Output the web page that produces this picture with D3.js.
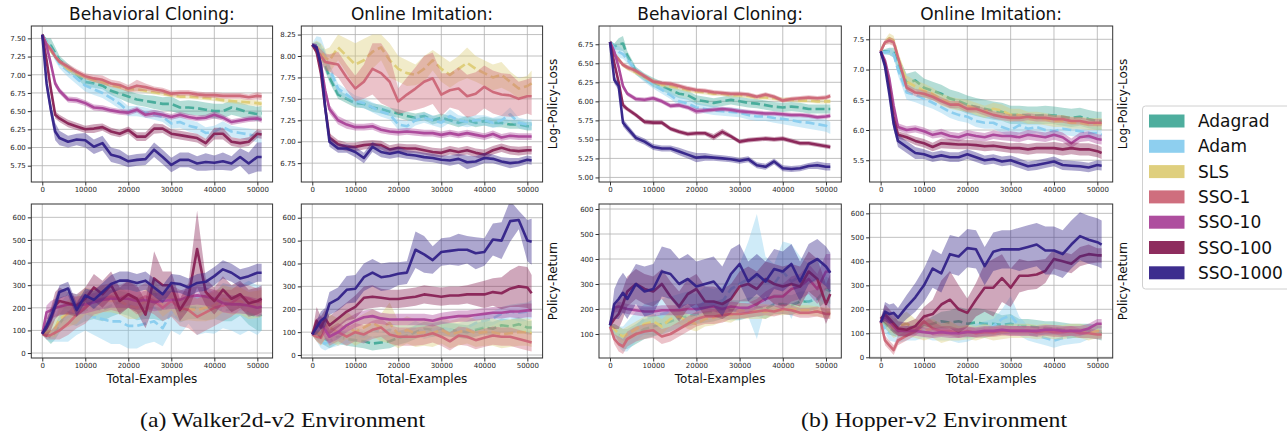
<!DOCTYPE html>
<html>
<head>
<meta charset="utf-8">
<script src="https://cdn.jsdelivr.net/npm/d3@7"></script>
<style>
  body { margin: 0; background: #fff; }
  svg { display: block; font-family: "DejaVu Sans", sans-serif; }
</style>
</head>
<body>
<svg id="chart" width="1287" height="431"></svg>
<script>
// series order: Adagrad, Adam, SLS, SSO-1, SSO-10, SSO-100, SSO-1000
const methods = ["Adagrad", "Adam", "SLS", "SSO-1", "SSO-10", "SSO-100", "SSO-1000"];
const colors = ["#44AA99", "#88CCEE", "#DDCC77", "#CC6677", "#AA4499", "#882255", "#332288"];
const dashed = [true, true, true, false, false, false, false];

const examples = [0, 1000, 2000, 3000, 4000, 6000, 8000, 10000, 12000, 14000, 16000, 18000, 20000, 22000,
  24000, 26000, 28000, 30000, 32000, 34000, 36000, 38000, 40000, 42000, 44000, 46000, 48000, 50000, 51000];
const xTicks = [0, 10000, 20000, 30000, 40000, 50000];

// Walker2d, behavioral cloning, log policy loss
const walkerBcLoss = [
  [7.55,7.45,7.4,7.3,7.2,7.1,7.0,6.9,6.88,6.85,6.78,6.74,6.7,6.66,6.64,6.62,6.6,6.6,6.55,6.55,6.54,6.52,6.5,6.5,6.55,6.52,6.48,6.46,6.47],
  [7.55,7.45,7.35,7.25,7.15,7.05,6.95,6.85,6.8,6.75,6.68,6.6,6.5,6.5,6.48,6.45,6.42,6.33,6.35,6.3,6.27,6.2,6.22,6.28,6.22,6.2,6.18,6.15,6.14],
  [7.55,7.42,7.33,7.25,7.18,7.08,7.02,6.97,6.93,6.9,6.86,6.83,6.8,6.8,6.78,6.76,6.74,6.72,6.7,6.7,6.69,6.68,6.67,6.65,6.64,6.63,6.62,6.61,6.6],
  [7.55,7.42,7.35,7.25,7.18,7.11,7.04,6.98,6.95,6.93,6.88,6.86,6.81,6.85,6.83,6.8,6.78,6.74,6.75,6.75,6.73,6.72,6.72,6.71,6.71,6.71,6.69,6.71,6.7],
  [7.55,7.4,7.15,6.88,6.78,6.66,6.65,6.61,6.55,6.54,6.51,6.49,6.48,6.52,6.45,6.47,6.45,6.42,6.45,6.42,6.4,6.41,6.45,6.41,6.35,6.37,6.39,6.4,6.38],
  [7.55,7.2,6.8,6.45,6.4,6.33,6.29,6.25,6.26,6.28,6.22,6.19,6.24,6.15,6.15,6.26,6.26,6.19,6.17,6.15,6.13,6.06,6.19,6.19,6.08,6.06,6.08,6.19,6.18],
  [7.55,6.88,6.52,6.22,6.13,6.08,6.11,6.1,6.01,6.06,5.9,5.87,5.81,5.83,5.84,5.97,5.87,5.76,5.83,5.83,5.78,5.8,5.79,5.81,5.78,5.87,5.78,5.87,5.87]
];
const walkerBcLossSd = [
  [0.02,0.05,0.1,0.08,0.06,0.05,0.05,0.06,0.06,0.05,0.06,0.07,0.08,0.08,0.08,0.09,0.09,0.1,0.09,0.1,0.1,0.1,0.1,0.1,0.1,0.1,0.1,0.1,0.1],
  [0.02,0.04,0.05,0.06,0.06,0.08,0.08,0.08,0.08,0.07,0.07,0.07,0.07,0.07,0.07,0.07,0.07,0.07,0.08,0.08,0.08,0.08,0.08,0.08,0.08,0.08,0.08,0.08,0.08],
  [0.02,0.03,0.03,0.03,0.03,0.04,0.04,0.03,0.03,0.03,0.03,0.03,0.03,0.03,0.03,0.03,0.03,0.03,0.03,0.03,0.03,0.03,0.03,0.03,0.03,0.04,0.04,0.04,0.04],
  [0.02,0.03,0.03,0.03,0.03,0.04,0.04,0.04,0.05,0.06,0.05,0.05,0.05,0.08,0.05,0.04,0.04,0.04,0.04,0.04,0.04,0.04,0.04,0.04,0.04,0.04,0.04,0.05,0.05],
  [0.02,0.04,0.05,0.05,0.04,0.04,0.04,0.04,0.04,0.04,0.04,0.04,0.04,0.04,0.04,0.05,0.04,0.04,0.04,0.04,0.04,0.04,0.05,0.04,0.04,0.04,0.04,0.04,0.04],
  [0.02,0.04,0.05,0.05,0.05,0.05,0.05,0.05,0.06,0.05,0.05,0.05,0.05,0.06,0.06,0.07,0.06,0.06,0.06,0.06,0.06,0.06,0.08,0.08,0.06,0.06,0.06,0.06,0.06],
  [0.02,0.1,0.1,0.12,0.1,0.08,0.08,0.1,0.1,0.1,0.1,0.1,0.08,0.08,0.08,0.1,0.1,0.1,0.1,0.1,0.1,0.12,0.1,0.12,0.1,0.12,0.15,0.2,0.2]
];

// Walker2d, online imitation, log policy loss
const walkerOiLoss = [
  [8.13,8.1,8.05,7.9,7.75,7.55,7.5,7.45,7.44,7.4,7.38,7.35,7.33,7.3,7.28,7.3,7.25,7.28,7.25,7.22,7.25,7.22,7.24,7.22,7.22,7.2,7.2,7.18,7.18],
  [8.13,8.15,8.12,8.0,7.85,7.62,7.55,7.48,7.45,7.4,7.35,7.32,7.2,7.18,7.25,7.28,7.25,7.22,7.3,7.25,7.23,7.25,7.25,7.22,7.25,7.32,7.22,7.2,7.2],
  [8.13,8.1,8.05,7.98,7.95,8.1,8.0,7.9,7.95,8.05,8.1,7.95,7.85,7.8,7.78,7.85,7.95,7.85,7.78,7.85,7.92,7.85,7.8,7.75,7.78,7.7,7.62,7.65,7.68],
  [8.13,8.08,8.0,7.93,7.92,7.9,7.75,7.62,7.7,7.85,7.8,7.7,7.47,7.55,7.62,7.7,7.74,7.55,7.6,7.62,7.53,7.56,7.64,7.58,7.55,7.54,7.5,7.53,7.53],
  [8.13,8.1,7.9,7.6,7.38,7.25,7.2,7.17,7.17,7.18,7.14,7.12,7.11,7.12,7.11,7.1,7.1,7.08,7.1,7.08,7.1,7.08,7.06,7.09,7.05,7.07,7.06,7.06,7.06],
  [8.13,8.05,7.8,7.4,7.05,6.97,6.94,6.94,6.96,6.97,6.96,6.91,6.93,6.92,6.92,6.9,6.88,6.87,6.9,6.88,6.9,6.87,6.85,6.9,6.93,6.9,6.89,6.9,6.9],
  [8.13,8.1,7.9,7.4,7.0,6.92,6.92,6.88,6.81,6.94,6.88,6.86,6.88,6.85,6.84,6.82,6.81,6.79,6.78,6.8,6.76,6.77,6.81,6.8,6.77,6.75,6.76,6.79,6.78]
];
const walkerOiLossSd = [
  [0.02,0.05,0.08,0.08,0.06,0.05,0.05,0.05,0.05,0.05,0.05,0.05,0.05,0.05,0.05,0.05,0.05,0.05,0.05,0.05,0.05,0.05,0.05,0.05,0.05,0.05,0.05,0.05,0.05],
  [0.02,0.08,0.1,0.08,0.06,0.06,0.06,0.06,0.06,0.06,0.06,0.06,0.06,0.06,0.06,0.06,0.06,0.06,0.08,0.06,0.06,0.06,0.06,0.06,0.06,0.08,0.06,0.06,0.06],
  [0.02,0.08,0.1,0.1,0.15,0.15,0.2,0.25,0.25,0.2,0.15,0.2,0.15,0.15,0.12,0.15,0.12,0.15,0.15,0.15,0.18,0.15,0.15,0.15,0.15,0.12,0.12,0.12,0.15],
  [0.02,0.05,0.08,0.1,0.1,0.15,0.15,0.15,0.2,0.3,0.35,0.3,0.15,0.2,0.25,0.3,0.3,0.25,0.2,0.25,0.25,0.25,0.25,0.25,0.25,0.25,0.2,0.2,0.22],
  [0.02,0.04,0.05,0.05,0.05,0.05,0.05,0.04,0.04,0.04,0.04,0.04,0.04,0.04,0.04,0.04,0.04,0.04,0.04,0.04,0.04,0.04,0.04,0.04,0.04,0.04,0.04,0.04,0.04],
  [0.02,0.04,0.05,0.05,0.05,0.05,0.05,0.05,0.05,0.05,0.05,0.05,0.05,0.05,0.05,0.05,0.05,0.05,0.05,0.05,0.05,0.05,0.06,0.05,0.05,0.05,0.05,0.05,0.05],
  [0.02,0.04,0.08,0.1,0.06,0.05,0.05,0.06,0.06,0.06,0.06,0.06,0.06,0.05,0.05,0.05,0.05,0.05,0.06,0.06,0.08,0.06,0.06,0.05,0.05,0.06,0.05,0.05,0.05]
];

// Hopper, behavioral cloning, log policy loss
const hopperBcLoss = [
  [6.78,6.72,6.75,6.76,6.6,6.4,6.32,6.25,6.2,6.15,6.1,6.08,6.02,6.0,5.98,6.0,6.02,6.0,5.98,5.97,5.95,5.93,5.92,5.93,5.92,5.9,5.9,5.9,5.9],
  [6.78,6.7,6.65,6.62,6.55,6.4,6.3,6.22,6.15,6.08,6.0,5.97,5.92,5.9,5.88,5.87,5.86,5.85,5.82,5.8,5.8,5.78,5.77,5.75,5.73,5.72,5.7,5.68,5.65],
  [6.78,6.62,6.55,6.48,6.44,6.38,6.32,6.26,6.22,6.2,6.18,6.15,6.13,6.12,6.1,6.1,6.08,6.08,6.07,6.05,6.05,6.04,6.02,6.02,6.01,6.01,6.0,6.0,6.0],
  [6.78,6.62,6.55,6.48,6.45,6.4,6.33,6.26,6.24,6.23,6.2,6.17,6.15,6.14,6.12,6.11,6.1,6.1,6.09,6.06,6.09,6.06,6.01,6.03,6.04,6.05,6.04,6.05,6.07],
  [6.78,6.65,6.45,6.2,6.1,6.03,6.02,6.04,6.0,5.94,5.95,5.92,5.87,5.88,5.89,5.9,5.89,5.87,5.86,5.85,5.84,5.84,5.83,5.82,5.82,5.81,5.79,5.8,5.81],
  [6.78,6.5,6.25,5.95,5.9,5.82,5.73,5.72,5.72,5.64,5.6,5.57,5.58,5.58,5.53,5.6,5.54,5.47,5.49,5.5,5.51,5.5,5.51,5.48,5.45,5.45,5.43,5.41,5.4],
  [6.78,6.28,6.2,5.72,5.65,5.52,5.47,5.4,5.38,5.38,5.34,5.3,5.26,5.27,5.26,5.25,5.24,5.22,5.24,5.16,5.14,5.21,5.12,5.11,5.12,5.15,5.16,5.14,5.14]
];
const hopperBcLossSd = [
  [0.02,0.04,0.08,0.1,0.06,0.05,0.05,0.06,0.06,0.06,0.06,0.06,0.06,0.06,0.06,0.06,0.06,0.06,0.06,0.06,0.06,0.06,0.06,0.06,0.06,0.06,0.06,0.06,0.06],
  [0.02,0.06,0.08,0.06,0.05,0.05,0.05,0.05,0.05,0.05,0.06,0.06,0.06,0.06,0.06,0.06,0.06,0.06,0.06,0.06,0.06,0.06,0.07,0.07,0.07,0.08,0.08,0.08,0.08],
  [0.02,0.03,0.03,0.03,0.03,0.03,0.03,0.03,0.03,0.03,0.03,0.03,0.03,0.03,0.03,0.03,0.03,0.03,0.03,0.03,0.03,0.03,0.03,0.03,0.03,0.03,0.03,0.03,0.03],
  [0.02,0.03,0.03,0.03,0.03,0.03,0.03,0.03,0.03,0.03,0.03,0.03,0.03,0.03,0.03,0.03,0.03,0.03,0.03,0.03,0.03,0.03,0.03,0.03,0.03,0.03,0.03,0.03,0.03],
  [0.02,0.03,0.04,0.04,0.03,0.03,0.03,0.03,0.03,0.03,0.03,0.03,0.04,0.03,0.03,0.03,0.03,0.03,0.03,0.03,0.03,0.03,0.03,0.03,0.03,0.03,0.03,0.03,0.03],
  [0.02,0.04,0.04,0.04,0.03,0.03,0.03,0.03,0.03,0.03,0.03,0.03,0.03,0.03,0.04,0.04,0.03,0.03,0.03,0.03,0.03,0.03,0.03,0.03,0.03,0.03,0.03,0.03,0.03],
  [0.02,0.05,0.05,0.05,0.05,0.04,0.04,0.04,0.04,0.04,0.05,0.05,0.06,0.05,0.04,0.04,0.04,0.04,0.04,0.04,0.04,0.04,0.04,0.04,0.04,0.04,0.05,0.05,0.05]
];

// Hopper, online imitation, log policy loss
const hopperOiLoss = [
  [7.3,7.3,7.3,7.28,7.1,6.78,6.82,6.7,6.65,6.6,6.52,6.48,6.42,6.38,6.35,6.32,6.3,6.25,6.25,6.24,6.24,6.25,6.24,6.22,6.2,6.22,6.18,6.15,6.15],
  [7.3,7.28,7.3,7.25,7.0,6.62,6.58,6.52,6.45,6.38,6.3,6.25,6.22,6.15,6.12,6.12,6.05,6.0,6.08,6.02,6.05,6.0,5.98,6.02,6.0,5.98,5.95,5.95,5.92],
  [7.3,7.45,7.52,7.48,7.2,6.8,6.72,6.65,6.6,6.5,6.45,6.42,6.4,6.35,6.3,6.35,6.32,6.25,6.25,6.2,6.2,6.18,6.15,6.15,6.12,6.12,6.1,6.1,6.1],
  [7.3,7.45,7.48,7.45,7.2,6.7,6.62,6.6,6.55,6.48,6.42,6.42,6.35,6.35,6.3,6.25,6.22,6.2,6.2,6.22,6.2,6.2,6.18,6.18,6.15,6.15,6.12,6.12,6.12],
  [7.3,7.15,6.85,6.4,6.05,6.0,6.02,5.98,5.92,5.95,5.9,5.88,5.93,5.9,5.88,5.92,5.9,5.9,5.88,5.92,5.9,5.88,5.92,5.88,5.78,5.88,5.9,5.85,5.84],
  [7.3,7.1,6.7,6.2,5.92,5.88,5.82,5.78,5.72,5.78,5.77,5.76,5.76,5.75,5.73,5.74,5.72,5.7,5.7,5.68,5.7,5.7,5.7,5.68,5.7,5.68,5.68,5.65,5.62],
  [7.3,7.05,6.6,6.1,5.82,5.72,5.62,5.6,5.55,5.58,5.55,5.55,5.6,5.55,5.5,5.52,5.48,5.5,5.45,5.4,5.42,5.45,5.48,5.42,5.41,5.4,5.38,5.42,5.41]
];
const hopperOiLossSd = [
  [0.02,0.04,0.06,0.08,0.12,0.15,0.15,0.15,0.15,0.15,0.15,0.15,0.15,0.15,0.15,0.15,0.15,0.15,0.15,0.15,0.15,0.15,0.15,0.15,0.15,0.15,0.15,0.15,0.15],
  [0.02,0.04,0.05,0.06,0.1,0.12,0.12,0.12,0.1,0.1,0.1,0.1,0.1,0.1,0.1,0.1,0.1,0.12,0.15,0.1,0.1,0.1,0.1,0.1,0.1,0.1,0.1,0.1,0.1],
  [0.02,0.05,0.08,0.08,0.1,0.1,0.1,0.12,0.1,0.1,0.1,0.1,0.1,0.1,0.1,0.1,0.1,0.1,0.1,0.1,0.1,0.1,0.1,0.1,0.1,0.1,0.1,0.1,0.1],
  [0.02,0.04,0.06,0.06,0.06,0.06,0.06,0.06,0.06,0.06,0.06,0.06,0.06,0.06,0.06,0.06,0.06,0.06,0.06,0.06,0.06,0.06,0.06,0.06,0.06,0.06,0.06,0.06,0.06],
  [0.02,0.04,0.06,0.06,0.06,0.06,0.06,0.06,0.06,0.07,0.07,0.07,0.07,0.07,0.07,0.07,0.07,0.08,0.08,0.08,0.08,0.08,0.08,0.08,0.08,0.08,0.08,0.08,0.08],
  [0.02,0.04,0.06,0.06,0.06,0.06,0.07,0.07,0.07,0.08,0.08,0.08,0.08,0.08,0.08,0.08,0.08,0.08,0.09,0.09,0.09,0.09,0.1,0.1,0.1,0.1,0.1,0.1,0.1],
  [0.02,0.05,0.08,0.1,0.1,0.1,0.1,0.08,0.08,0.08,0.08,0.08,0.08,0.08,0.08,0.08,0.08,0.08,0.08,0.08,0.08,0.08,0.08,0.08,0.08,0.08,0.08,0.08,0.08]
];

// Walker2d, behavioral cloning, policy return
const walkerBcReturn = [
  [85,80,70,90,130,180,170,190,200,190,210,225,215,195,200,200,190,215,185,200,200,195,200,190,190,215,175,160,170],
  [85,90,100,110,130,160,170,180,160,150,140,140,120,120,130,140,110,180,150,200,170,190,175,210,200,190,210,190,200],
  [85,90,100,110,150,175,190,230,220,240,230,230,210,200,230,270,210,240,190,195,190,200,210,240,230,230,210,215,220],
  [85,75,80,90,100,130,170,200,230,240,250,240,260,230,250,230,200,230,200,190,160,180,200,210,220,250,240,225,230],
  [85,180,190,200,205,215,210,215,225,235,240,240,240,230,235,225,230,235,235,250,255,250,240,220,215,215,210,200,205],
  [85,110,150,210,230,220,210,240,290,260,300,230,260,240,170,330,300,300,190,250,460,270,230,280,240,260,220,230,240],
  [85,120,160,210,270,285,190,255,235,270,305,320,320,310,320,290,260,310,305,290,310,315,340,370,355,330,340,355,355]
];
const walkerBcReturnSd = [
  [5,20,30,30,40,50,50,50,50,50,50,50,50,50,50,50,50,50,50,50,50,50,50,50,50,50,50,60,70],
  [5,30,50,60,80,110,90,80,80,90,100,100,100,100,90,90,80,80,70,70,90,100,90,100,100,110,110,110,100],
  [5,20,30,40,50,60,60,60,60,60,50,60,60,50,50,60,50,50,50,50,50,60,60,60,60,60,60,60,60],
  [5,15,20,30,40,50,60,70,60,60,60,60,60,60,60,60,60,70,80,80,80,80,80,70,60,60,60,60,60],
  [5,30,40,40,40,40,40,40,40,40,40,40,40,40,40,40,40,40,40,40,40,40,40,40,40,40,40,40,40],
  [5,40,50,60,60,50,50,50,60,60,60,60,60,60,60,120,60,60,50,60,170,60,60,60,60,60,60,60,60],
  [5,20,30,30,30,30,30,30,40,40,40,40,40,40,40,40,40,40,40,40,40,40,40,40,40,40,40,40,40]
];

// Walker2d, online imitation, policy return
const walkerOiReturn = [
  [90,85,80,70,60,80,70,65,60,50,55,60,75,85,100,115,110,115,110,105,100,110,120,115,130,125,135,120,120],
  [90,80,60,50,60,70,80,90,80,110,100,110,100,100,120,100,110,120,110,110,120,140,150,160,180,190,185,190,200],
  [90,100,90,130,120,100,130,100,120,140,120,140,90,110,95,100,95,110,90,100,110,95,100,100,90,95,100,100,95],
  [90,80,75,110,80,100,80,100,90,110,120,90,80,80,80,85,95,80,60,85,80,65,75,85,80,80,70,60,55],
  [90,130,140,110,80,100,130,150,165,170,160,155,155,155,155,155,150,160,165,170,170,175,180,185,185,190,190,195,195],
  [90,150,120,160,130,160,190,210,250,255,250,245,245,250,255,265,260,255,260,260,265,265,265,275,270,290,300,295,270],
  [90,120,150,165,225,245,285,290,340,360,340,345,355,360,460,440,415,450,455,460,460,445,450,505,500,585,590,500,495]
];
const walkerOiReturnSd = [
  [5,20,30,30,30,30,30,30,30,30,30,30,30,30,30,30,30,30,30,30,30,30,30,30,30,30,30,30,30],
  [5,20,30,30,30,30,30,30,30,30,30,30,30,30,30,30,30,30,30,30,30,30,30,30,30,30,40,40,40],
  [5,40,50,60,60,60,60,60,60,60,60,90,60,60,60,60,60,60,60,60,60,60,60,60,60,60,60,60,60],
  [5,20,30,40,40,40,40,40,40,40,40,40,40,40,40,40,40,40,40,40,40,40,40,40,40,40,40,40,40],
  [5,30,30,40,30,30,30,30,30,30,25,25,25,25,25,25,25,25,25,25,25,25,25,25,25,25,30,30,30],
  [5,60,50,40,40,40,40,50,50,50,40,40,40,40,40,40,40,40,40,40,40,50,60,60,70,80,90,90,80],
  [5,30,40,40,50,50,60,60,60,60,60,60,50,50,80,80,60,60,60,70,60,70,60,70,80,90,40,90,100]
];

// Hopper, behavioral cloning, policy return
const hopperBcReturn = [
  [135,120,100,80,80,100,120,130,140,150,165,170,180,185,190,200,195,195,205,210,200,220,220,215,230,230,240,280,270],
  [135,110,90,80,90,130,160,170,180,190,200,210,200,230,220,230,280,300,320,330,310,300,350,310,330,300,320,300,280],
  [130,120,100,90,100,120,140,150,130,160,170,150,140,160,165,180,175,195,190,190,190,195,195,200,195,195,190,185,185],
  [130,80,60,50,80,100,110,115,90,100,120,140,160,170,170,175,180,180,185,190,195,190,200,195,185,185,190,180,180],
  [135,205,210,205,200,195,190,190,195,195,195,200,200,205,210,200,210,205,205,220,240,250,250,280,290,320,280,350,350],
  [135,160,180,220,270,300,280,270,300,250,210,260,280,230,230,220,240,290,300,280,320,300,290,300,290,350,320,220,260],
  [135,220,240,265,240,300,270,280,350,340,300,320,290,300,310,270,340,380,310,340,310,360,350,380,310,380,400,370,345]
];
const hopperBcReturnSd = [
  [5,20,30,40,40,40,40,40,40,40,40,40,40,40,40,40,40,40,40,40,40,40,40,40,40,40,40,50,50],
  [5,30,40,50,60,60,60,60,60,60,60,60,60,60,60,60,60,80,150,250,100,80,120,150,80,80,80,80,80],
  [5,20,30,30,30,30,30,30,30,30,30,30,30,30,30,30,30,30,30,30,30,20,20,20,20,20,20,20,20],
  [5,20,30,30,30,30,30,30,30,30,30,30,30,30,30,30,20,20,20,20,20,20,20,20,20,20,20,20,20],
  [5,20,20,20,20,20,20,20,20,20,20,20,20,20,20,20,20,20,20,20,30,40,50,50,50,60,60,70,70],
  [5,40,60,60,60,60,60,60,60,60,60,60,60,60,60,60,60,60,70,70,70,80,80,80,80,80,80,80,80],
  [5,60,80,80,80,80,100,100,100,100,100,100,100,100,100,100,100,80,80,80,80,80,80,80,80,80,80,80,80]
];

// Hopper, online imitation, policy return
const hopperOiReturn = [
  [150,140,120,110,105,110,115,130,140,150,145,150,140,145,140,140,135,140,130,130,125,120,120,115,110,110,110,105,100],
  [150,120,100,95,90,100,100,110,100,100,100,90,95,110,120,130,160,175,130,100,90,80,70,80,85,90,105,110,110],
  [150,160,140,120,130,140,120,110,120,100,110,100,105,100,110,100,105,110,110,110,105,110,105,105,110,110,100,110,110],
  [150,70,50,30,70,90,110,150,120,110,110,100,110,100,105,105,110,110,110,110,105,110,105,105,110,100,100,95,95],
  [150,170,150,130,110,110,110,105,100,105,100,100,105,105,110,110,115,110,110,110,110,115,115,110,110,110,120,140,140],
  [160,180,160,140,120,115,130,170,180,220,240,200,185,240,290,290,330,290,340,340,345,360,410,400,390,420,430,425,425],
  [145,190,180,185,165,210,250,300,370,350,430,420,455,450,380,440,450,450,450,460,470,445,445,430,470,505,490,480,470]
];
const hopperOiReturnSd = [
  [5,20,20,20,20,20,20,20,30,40,50,60,60,60,60,50,40,40,30,30,30,30,30,30,30,30,30,30,30],
  [5,20,30,30,30,30,30,30,30,30,30,30,30,30,30,30,40,80,40,30,30,30,30,30,30,30,30,30,30],
  [5,30,40,40,40,50,40,40,40,40,40,30,30,30,30,30,30,30,30,30,30,30,30,30,30,30,30,30,30],
  [5,20,20,20,20,20,20,30,30,20,20,20,20,20,20,20,20,20,20,20,20,20,20,20,20,20,20,20,20],
  [5,20,20,20,20,20,20,20,20,20,20,20,20,20,20,20,20,20,20,20,20,20,20,20,20,20,20,20,20],
  [5,40,40,40,30,30,30,40,60,100,120,100,60,70,100,120,100,80,70,60,60,50,40,40,40,40,40,30,30],
  [5,40,40,40,40,50,60,70,80,80,80,80,80,80,80,80,80,80,90,90,90,100,100,100,100,100,100,100,100]
];

const walkerBcLossTicks = [5.75, 6.0, 6.25, 6.5, 6.75, 7.0, 7.25, 7.5];
const walkerOiLossTicks = [6.75, 7.0, 7.25, 7.5, 7.75, 8.0, 8.25];
const hopperBcLossTicks = [5.0, 5.25, 5.5, 5.75, 6.0, 6.25, 6.5, 6.75];
const hopperOiLossTicks = [5.5, 6.0, 6.5, 7.0, 7.5];
const returnTicks = [0, 100, 200, 300, 400, 500, 600];
const hopperBcReturnTicks = [100, 200, 300, 400, 500, 600];

const cols = [
  {left: 31.3, width: 241.3},
  {left: 301.3, width: 241.3},
  {left: 599, width: 242.3},
  {left: 869.6, width: 243.1}
];
const rows = [{top: 26, height: 156}, {top: 204, height: 154}];

const panels = [
  {c: 0, r: 0, mean: walkerBcLoss, sd: walkerBcLossSd, y: [5.526, 7.67], ticks: walkerBcLossTicks, fmt: ".2f", title: "Behavioral Cloning:"},
  {c: 1, r: 0, mean: walkerOiLoss, sd: walkerOiLossSd, y: [6.53, 8.35], ticks: walkerOiLossTicks, fmt: ".2f", title: "Online Imitation:", ylabel: "Log-Policy-Loss"},
  {c: 2, r: 0, mean: hopperBcLoss, sd: hopperBcLossSd, y: [4.94, 6.99], ticks: hopperBcLossTicks, fmt: ".2f", title: "Behavioral Cloning:"},
  {c: 3, r: 0, mean: hopperOiLoss, sd: hopperOiLossSd, y: [5.14, 7.72], ticks: hopperOiLossTicks, fmt: ".1f", title: "Online Imitation:", ylabel: "Log-Policy-Loss"},
  {c: 0, r: 1, mean: walkerBcReturn, sd: walkerBcReturnSd, y: [-22, 659], ticks: returnTicks, fmt: "d", xlabel: true},
  {c: 1, r: 1, mean: walkerOiReturn, sd: walkerOiReturnSd, y: [-13, 660], ticks: returnTicks, fmt: "d", xlabel: true, ylabel: "Policy-Return"},
  {c: 2, r: 1, mean: hopperBcReturn, sd: hopperBcReturnSd, y: [4, 620], ticks: hopperBcReturnTicks, fmt: "d", xlabel: true},
  {c: 3, r: 1, mean: hopperOiReturn, sd: hopperOiReturnSd, y: [-3, 639], ticks: returnTicks, fmt: "d", xlabel: true, ylabel: "Policy-Return"}
];

const svg = d3.select("#chart");
const defs = svg.append("defs");

panels.forEach((p, i) => {
  const col = cols[p.c], row = rows[p.r];
  const x = d3.scaleLinear().domain([-2550, 53550]).range([col.left, col.left + col.width]);
  const y = d3.scaleLinear().domain(p.y).range([row.top + row.height, row.top]);

  defs.append("clipPath").attr("id", "clip" + i)
    .append("rect")
    .attr("x", col.left).attr("y", row.top)
    .attr("width", col.width).attr("height", row.height);

  const g = svg.append("g");

  // grid
  g.append("g").selectAll("line").data(xTicks).join("line")
    .attr("x1", d => x(d)).attr("x2", d => x(d))
    .attr("y1", row.top).attr("y2", row.top + row.height)
    .attr("stroke", "#b0b0b0").attr("stroke-width", 0.8);
  g.append("g").selectAll("line").data(p.ticks).join("line")
    .attr("x1", col.left).attr("x2", col.left + col.width)
    .attr("y1", d => y(d)).attr("y2", d => y(d))
    .attr("stroke", "#b0b0b0").attr("stroke-width", 0.8);

  const plot = g.append("g").attr("clip-path", `url(#clip${i})`);
  const area = d3.area()
    .x((d, j) => x(examples[j]))
    .y0(d => y(d[0] - d[1]))
    .y1(d => y(d[0] + d[1]));
  const line = d3.line()
    .x((d, j) => x(examples[j]))
    .y(d => y(d));

  methods.forEach((m, k) => {
    const pts = p.mean[k].map((v, j) => [v, p.sd[k][j]]);
    plot.append("path")
      .attr("d", area(pts))
      .attr("fill", colors[k])
      .attr("fill-opacity", 0.4);
    plot.append("path")
      .attr("d", line(p.mean[k]))
      .attr("fill", "none")
      .attr("stroke", colors[k])
      .attr("stroke-width", 2.6)
      .attr("stroke-opacity", 0.95)
      .attr("stroke-linejoin", "round")
      .attr("stroke-dasharray", dashed[k] ? "9,4" : null);
  });

  // axes
  const xAxis = d3.axisBottom(x).tickValues(xTicks).tickFormat(d3.format("d")).tickSize(3.5).tickPadding(2);
  const yAxis = d3.axisLeft(y).tickValues(p.ticks).tickFormat(d3.format(p.fmt)).tickSize(3.5).tickPadding(2);
  const gx = g.append("g").attr("transform", `translate(0,${row.top + row.height})`).call(xAxis);
  const gy = g.append("g").attr("transform", `translate(${col.left},0)`).call(yAxis);
  [gx, gy].forEach(a => {
    a.select(".domain").remove();
    a.selectAll("text").attr("font-size", 7).attr("fill", "#262626").attr("font-family", "DejaVu Sans");
    a.selectAll("line").attr("stroke", "#333");
  });

  g.append("rect")
    .attr("x", col.left).attr("y", row.top)
    .attr("width", col.width).attr("height", row.height)
    .attr("fill", "none").attr("stroke", "#333").attr("stroke-width", 1);

  if (p.title) {
    g.append("text")
      .attr("x", col.left + col.width / 2).attr("y", row.top - 6)
      .attr("text-anchor", "middle").attr("font-size", 17).attr("fill", "#111")
      .text(p.title);
  }
  if (p.xlabel) {
    g.append("text")
      .attr("x", col.left + col.width / 2).attr("y", row.top + row.height + 25)
      .attr("text-anchor", "middle").attr("font-size", 12).attr("fill", "#111")
      .text("Total-Examples");
  }
  if (p.ylabel) {
    const lx = col.left + col.width + 14;
    const ly = row.top + row.height / 2;
    g.append("text")
      .attr("transform", `translate(${lx},${ly}) rotate(-90)`)
      .attr("text-anchor", "middle").attr("font-size", 12).attr("fill", "#111")
      .text(p.ylabel);
  }
});

// legend
const legend = svg.append("g");
legend.append("rect")
  .attr("x", 1142.5).attr("y", 106).attr("width", 160).attr("height", 183)
  .attr("rx", 3).attr("fill", "#fff").attr("stroke", "#d0d0d0");
methods.forEach((m, k) => {
  const cy = 121 + k * 25.3;
  legend.append("rect")
    .attr("x", 1149).attr("y", cy - 6.5).attr("width", 35.5).attr("height", 13)
    .attr("fill", colors[k]).attr("fill-opacity", 0.95);
  legend.append("text")
    .attr("x", 1198).attr("y", cy + 6)
    .attr("font-size", 17).attr("fill", "#111")
    .text(m);
});

// captions
svg.append("text")
  .attr("x", 140).attr("y", 427)
  .attr("font-family", "Liberation Serif").attr("font-size", 22).attr("fill", "#111")
  .attr("textLength", 285).attr("lengthAdjust", "spacingAndGlyphs")
  .text("(a) Walker2d-v2 Environment");
svg.append("text")
  .attr("x", 801).attr("y", 427)
  .attr("font-family", "Liberation Serif").attr("font-size", 22).attr("fill", "#111")
  .attr("textLength", 266).attr("lengthAdjust", "spacingAndGlyphs")
  .text("(b) Hopper-v2 Environment");
</script>
</body>
</html>
